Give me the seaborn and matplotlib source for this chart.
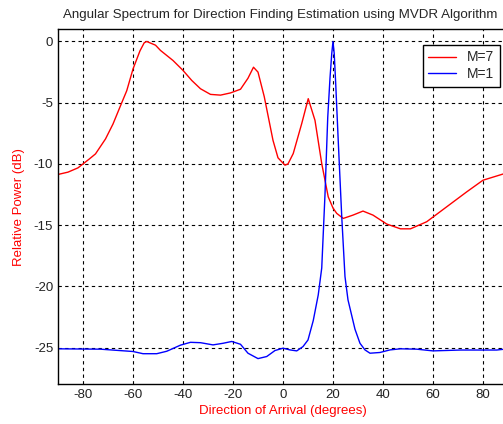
import numpy as np
import pandas as pd
import matplotlib
matplotlib.use("Agg")
import matplotlib.pyplot as plt
import seaborn as sns

# M=7 curve (red)
doa_m7 = [-90, -86, -82, -80, -77.5, -75, -71, -68, -64.5, -62.5, -60, -57.2, -55.5, -54.5,
          -51, -49, -44, -40, -36.5, -33, -29, -25, -21, -17, -14, -11.8, -10, -7.5, -4,
          -2, 0.8, 2, 4.1, 7.5, 10.1, 12.8, 15.5, 18.1, 20, 21.5, 24.1, 28, 32, 36, 41.5,
          47, 51, 57.5, 65.5, 73.5, 80, 90]
pow_m7 = [-10.86, -10.67, -10.32, -10.0, -9.6, -9.18, -7.96, -6.74, -5.0, -4.02, -2.25, -0.76,
          -0.1, 0.0, -0.3, -0.73, -1.55, -2.36, -3.18, -3.86, -4.32, -4.38, -4.2, -3.9, -3.0,
          -2.1, -2.5, -4.5, -8.07, -9.5, -10.1, -10.0, -9.15, -6.7, -4.67, -6.44, -9.97,
          -12.69, -13.6, -14.04, -14.45, -14.18, -13.85, -14.18, -14.91, -15.3, -15.3,
          -14.72, -13.5, -12.28, -11.33, -10.7]

# M=1 curve (blue)
doa_m1 = [-90, -73, -60, -56, -50.5, -46.5, -41, -37, -33, -28, -24, -20.5, -17, -14, -10,
          -6.5, -3.2, 0, 2.8, 5.5, 8, 10, 12.1, 14.1, 15.5, 16.8, 17.9, 18.8, 19.5, 20,
          20.5, 21.1, 22.1, 23.5, 24.8, 26, 28.8, 30.8, 32.8, 34.8, 38.8, 42.8, 47, 53.5,
          60, 71, 85.5, 90]
pow_m1 = [-25.1, -25.13, -25.32, -25.5, -25.5, -25.3, -24.8, -24.57, -24.6, -24.78, -24.65,
          -24.5, -24.73, -25.46, -25.9, -25.73, -25.24, -25.05, -25.19, -25.27, -24.92,
          -24.38, -22.8, -20.7, -18.5, -12.5, -6.2, -3.0, -1.0, 0.0, -1.0, -3.5, -8.1,
          -14.3, -19.2, -21.1, -23.5, -24.65, -25.19, -25.46, -25.4, -25.19, -25.1, -25.13,
          -25.27, -25.2, -25.2, -25.1]

xticks = [-80, -60, -40, -20, 0, 20, 40, 60, 80]
yticks = [0, -5, -10, -15, -20, -25]

df7 = pd.DataFrame({"doa": doa_m7, "p": pow_m7})
df1 = pd.DataFrame({"doa": doa_m1, "p": pow_m1})

sns.set_style("white")
plt.rcParams["font.family"] = ["Liberation Sans", "DejaVu Sans"]
plt.rcParams["axes.unicode_minus"] = False

fig = plt.figure(figsize=(5.03, 4.24), dpi=100)
ax = fig.add_axes([0.1153, 0.0936, 0.8946, 0.8374])

sns.lineplot(data=df7, x="doa", y="p", color="#ff0000", lw=1.0, sort=False,
             estimator=None, label="M=7", ax=ax)
sns.lineplot(data=df1, x="doa", y="p", color="#0000ff", lw=1.0, sort=False,
             estimator=None, label="M=1", ax=ax)

ax.set_xlim(-90, 90)
ax.set_ylim(-28, 1)
ax.set_xticks(xticks)
ax.set_yticks(yticks)
ax.grid(True, color="black", linestyle=(0, (3, 3)), linewidth=0.8)
ax.tick_params(direction="in", length=4, labelsize=9.5, colors="black", labelcolor="#222222")
for s in ax.spines.values():
    s.set_color("black")
    s.set_linewidth(1.0)

ax.set_title("Angular Spectrum for Direction Finding Estimation using MVDR Algorithm",
             fontsize=9.6, pad=8, x=0.493)
ax.set_xlabel("Direction of Arrival (degrees)", color="#ff0000", fontsize=9.5, labelpad=3)
ax.set_ylabel("Relative Power (dB)", color="#ff0000", fontsize=9.5, labelpad=6)

leg = ax.legend(loc="upper right", bbox_to_anchor=(0.982, 0.956), borderaxespad=0,
                fontsize=10, frameon=True, fancybox=False, edgecolor="black",
                framealpha=1, handlelength=2.0, borderpad=0.4, labelspacing=0.2)
leg.get_frame().set_linewidth(1.0)

fig.savefig("out.png", dpi=100)
